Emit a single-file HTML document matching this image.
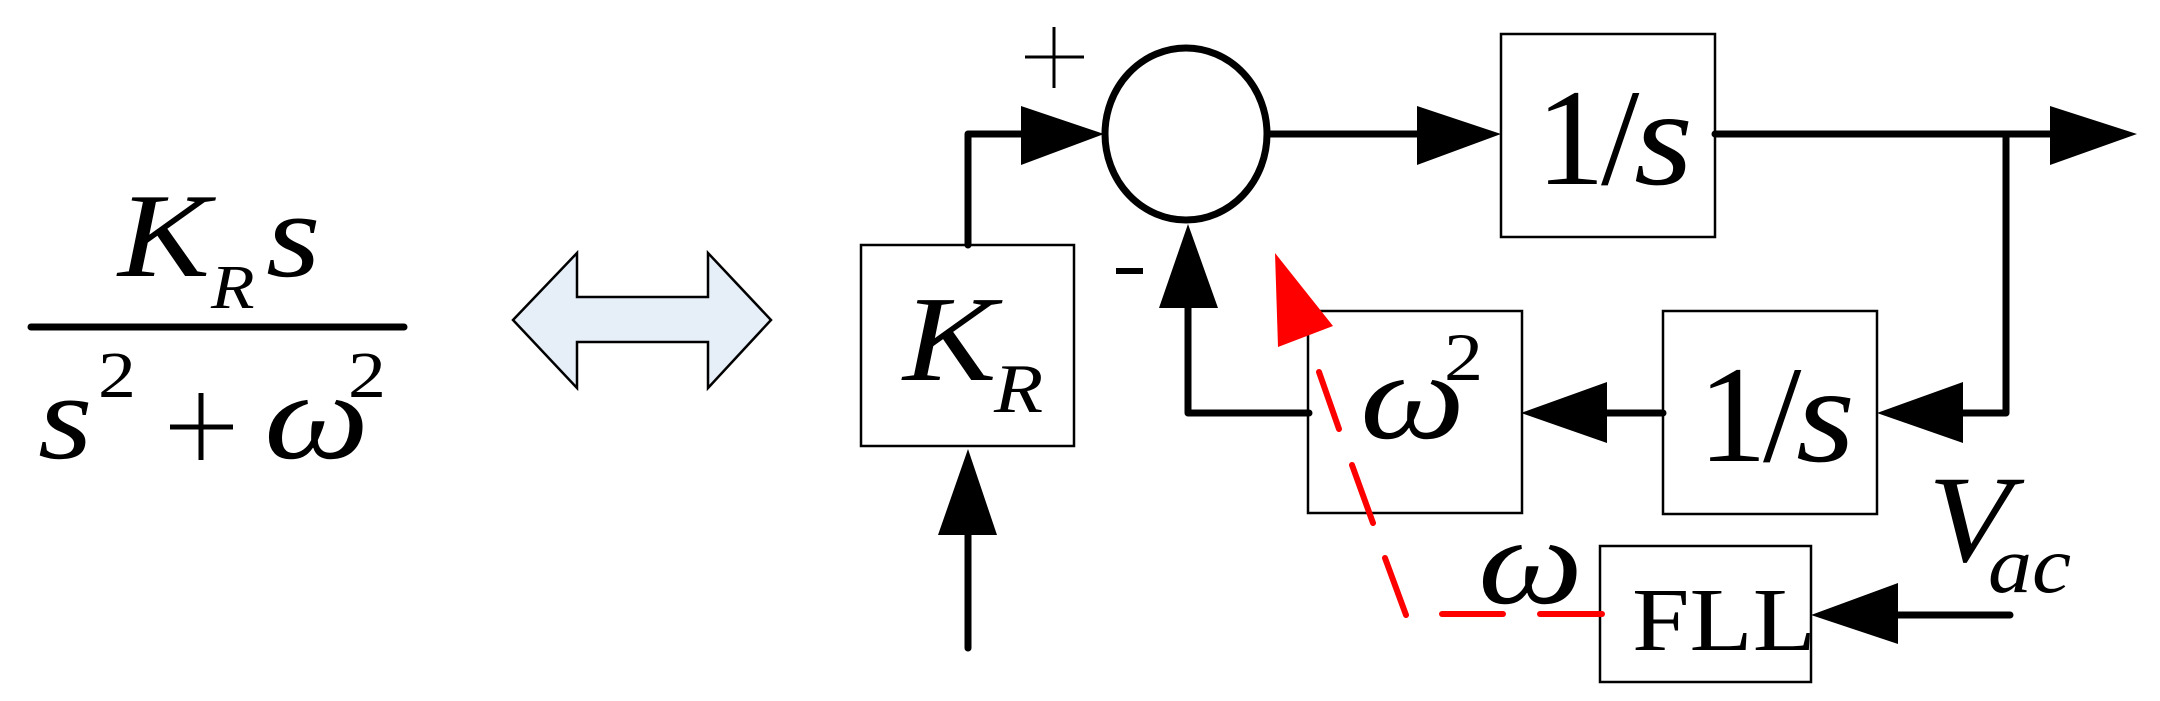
<!DOCTYPE html>
<html><head><meta charset="utf-8"><style>
html,body{margin:0;padding:0;background:#fff;}
svg{display:block;}
text{font-family:"Liberation Serif","DejaVu Serif",serif;fill:#000;}
.i{font-style:italic;}
</style></head><body>
<svg width="2160" height="701" viewBox="0 0 2160 701" xmlns="http://www.w3.org/2000/svg">
<!-- fraction -->
<g transform="translate(118,276) scale(1.15,1)"><text x="0" y="0" class="i" font-size="120">K</text></g>
<g transform="translate(211,308) scale(1.15,1)"><text x="0" y="0" class="i" font-size="62">R</text></g>
<g transform="translate(266,276) scale(1.15,1)"><text x="0" y="0" class="i" font-size="122">s</text></g>
<line x1="31" y1="327" x2="404" y2="327" stroke="#000" stroke-width="7" stroke-linecap="round"/>
<g transform="translate(38,458) scale(1.15,1)"><text x="0" y="0" class="i" font-size="122">s</text></g>
<g transform="translate(98,397) scale(1.15,1)"><text x="0" y="0" font-size="66">2</text></g>
<g stroke="#000" stroke-width="5"><line x1="170" y1="427" x2="233" y2="427"/><line x1="201" y1="393" x2="201" y2="460"/></g>
<g transform="translate(264,458) scale(1.2,1)"><text x="0" y="0" class="i" font-size="124">ω</text></g>
<g transform="translate(348,397) scale(1.15,1)"><text x="0" y="0" font-size="66">2</text></g>

<!-- double arrow -->
<polygon points="513,320 577,253 577,297 708,297 708,253 771,320 708,388 708,342 577,342 577,388" fill="#e6eef8" stroke="#000" stroke-width="2.5"/>

<!-- K_R box -->
<rect x="861" y="245" width="213" height="201" fill="none" stroke="#000" stroke-width="2.5"/>
<g transform="translate(903,380) scale(1.15,1)"><text x="0" y="0" class="i" font-size="122">K</text></g>
<g transform="translate(994,412) scale(1.15,1)"><text x="0" y="0" class="i" font-size="70">R</text></g>

<g stroke="#000" stroke-width="7" fill="none" stroke-linejoin="round" stroke-linecap="round">
<polyline points="968,245 968,134 1030,134"/>
<line x1="968" y1="648" x2="968" y2="530"/>
<ellipse cx="1186" cy="134" rx="81" ry="86"/>
<line x1="1269" y1="134" x2="1420" y2="134"/>
<line x1="1715" y1="134" x2="2055" y2="134"/>
<polyline points="2006,134 2006,413 1960,413"/>
<line x1="1663" y1="413" x2="1600" y2="413"/>
<polyline points="1309,413 1188,413 1188,305"/>
<line x1="2010" y1="615" x2="1895" y2="615"/>
</g>
<g fill="#000">
<polygon points="1021,106 1104,134 1021,165"/>
<polygon points="938,535 968,449 997,535"/>
<polygon points="1417,106 1501,134 1417,165"/>
<polygon points="2050,106 2137,134 2050,165"/>
<polygon points="1963,382 1877,413 1963,443"/>
<polygon points="1607,382 1521,413 1607,443"/>
<polygon points="1159,308 1188,224 1218,308"/>
<polygon points="1898,583 1811,615 1898,644"/>
</g>
<!-- plus / minus -->
<g stroke="#000" stroke-width="3"><line x1="1025" y1="57" x2="1084" y2="57"/><line x1="1054" y1="27" x2="1054" y2="88"/></g>
<rect x="1116" y="268" width="27" height="6" fill="#000"/>

<!-- boxes -->
<g fill="none" stroke="#000" stroke-width="2.5">
<rect x="1501" y="34" width="214" height="203"/>
<rect x="1663" y="311" width="214" height="203"/>
<rect x="1308" y="311" width="214" height="202"/>
<rect x="1600" y="546" width="211" height="136"/>
</g>
<text x="1536" y="184" font-size="138">1</text>
<text x="1601" y="184" font-size="138">/</text>
<g transform="translate(1634,184) scale(1.1,1)"><text x="0" y="0" class="i" font-size="138">s</text></g>
<text x="1698" y="461" font-size="138">1</text>
<text x="1763" y="461" font-size="138">/</text>
<g transform="translate(1796,461) scale(1.1,1)"><text x="0" y="0" class="i" font-size="138">s</text></g>

<g transform="translate(1360,438) scale(1.2,1)"><text x="0" y="0" class="i" font-size="124">ω</text></g>
<g transform="translate(1444,380) scale(1.15,1)"><text x="0" y="0" font-size="68">2</text></g>
<g transform="translate(1632,650) scale(1.15,1)"><text x="0" y="0" font-size="90">FLL</text></g>
<g transform="translate(1478,603) scale(1.2,1)"><text x="0" y="0" class="i" font-size="124">ω</text></g>
<g transform="translate(1928,561) scale(1.1,1)"><text x="0" y="0" class="i" font-size="124">V</text></g>
<g transform="translate(1988,592) scale(1.1,1)"><text x="0" y="0" class="i" font-size="80">ac</text></g>

<!-- red -->
<polygon points="1275,253 1278,347 1333,326" fill="#f00"/>
<g stroke="#f00" stroke-width="6" stroke-linecap="round">
<line x1="1319" y1="372" x2="1339" y2="429"/>
<line x1="1352" y1="465" x2="1373" y2="523"/>
<line x1="1385" y1="558" x2="1406" y2="615"/>
<line x1="1442" y1="614" x2="1503" y2="614"/>
<line x1="1540" y1="614" x2="1602" y2="614"/>
</g>
</svg>
</body></html>
